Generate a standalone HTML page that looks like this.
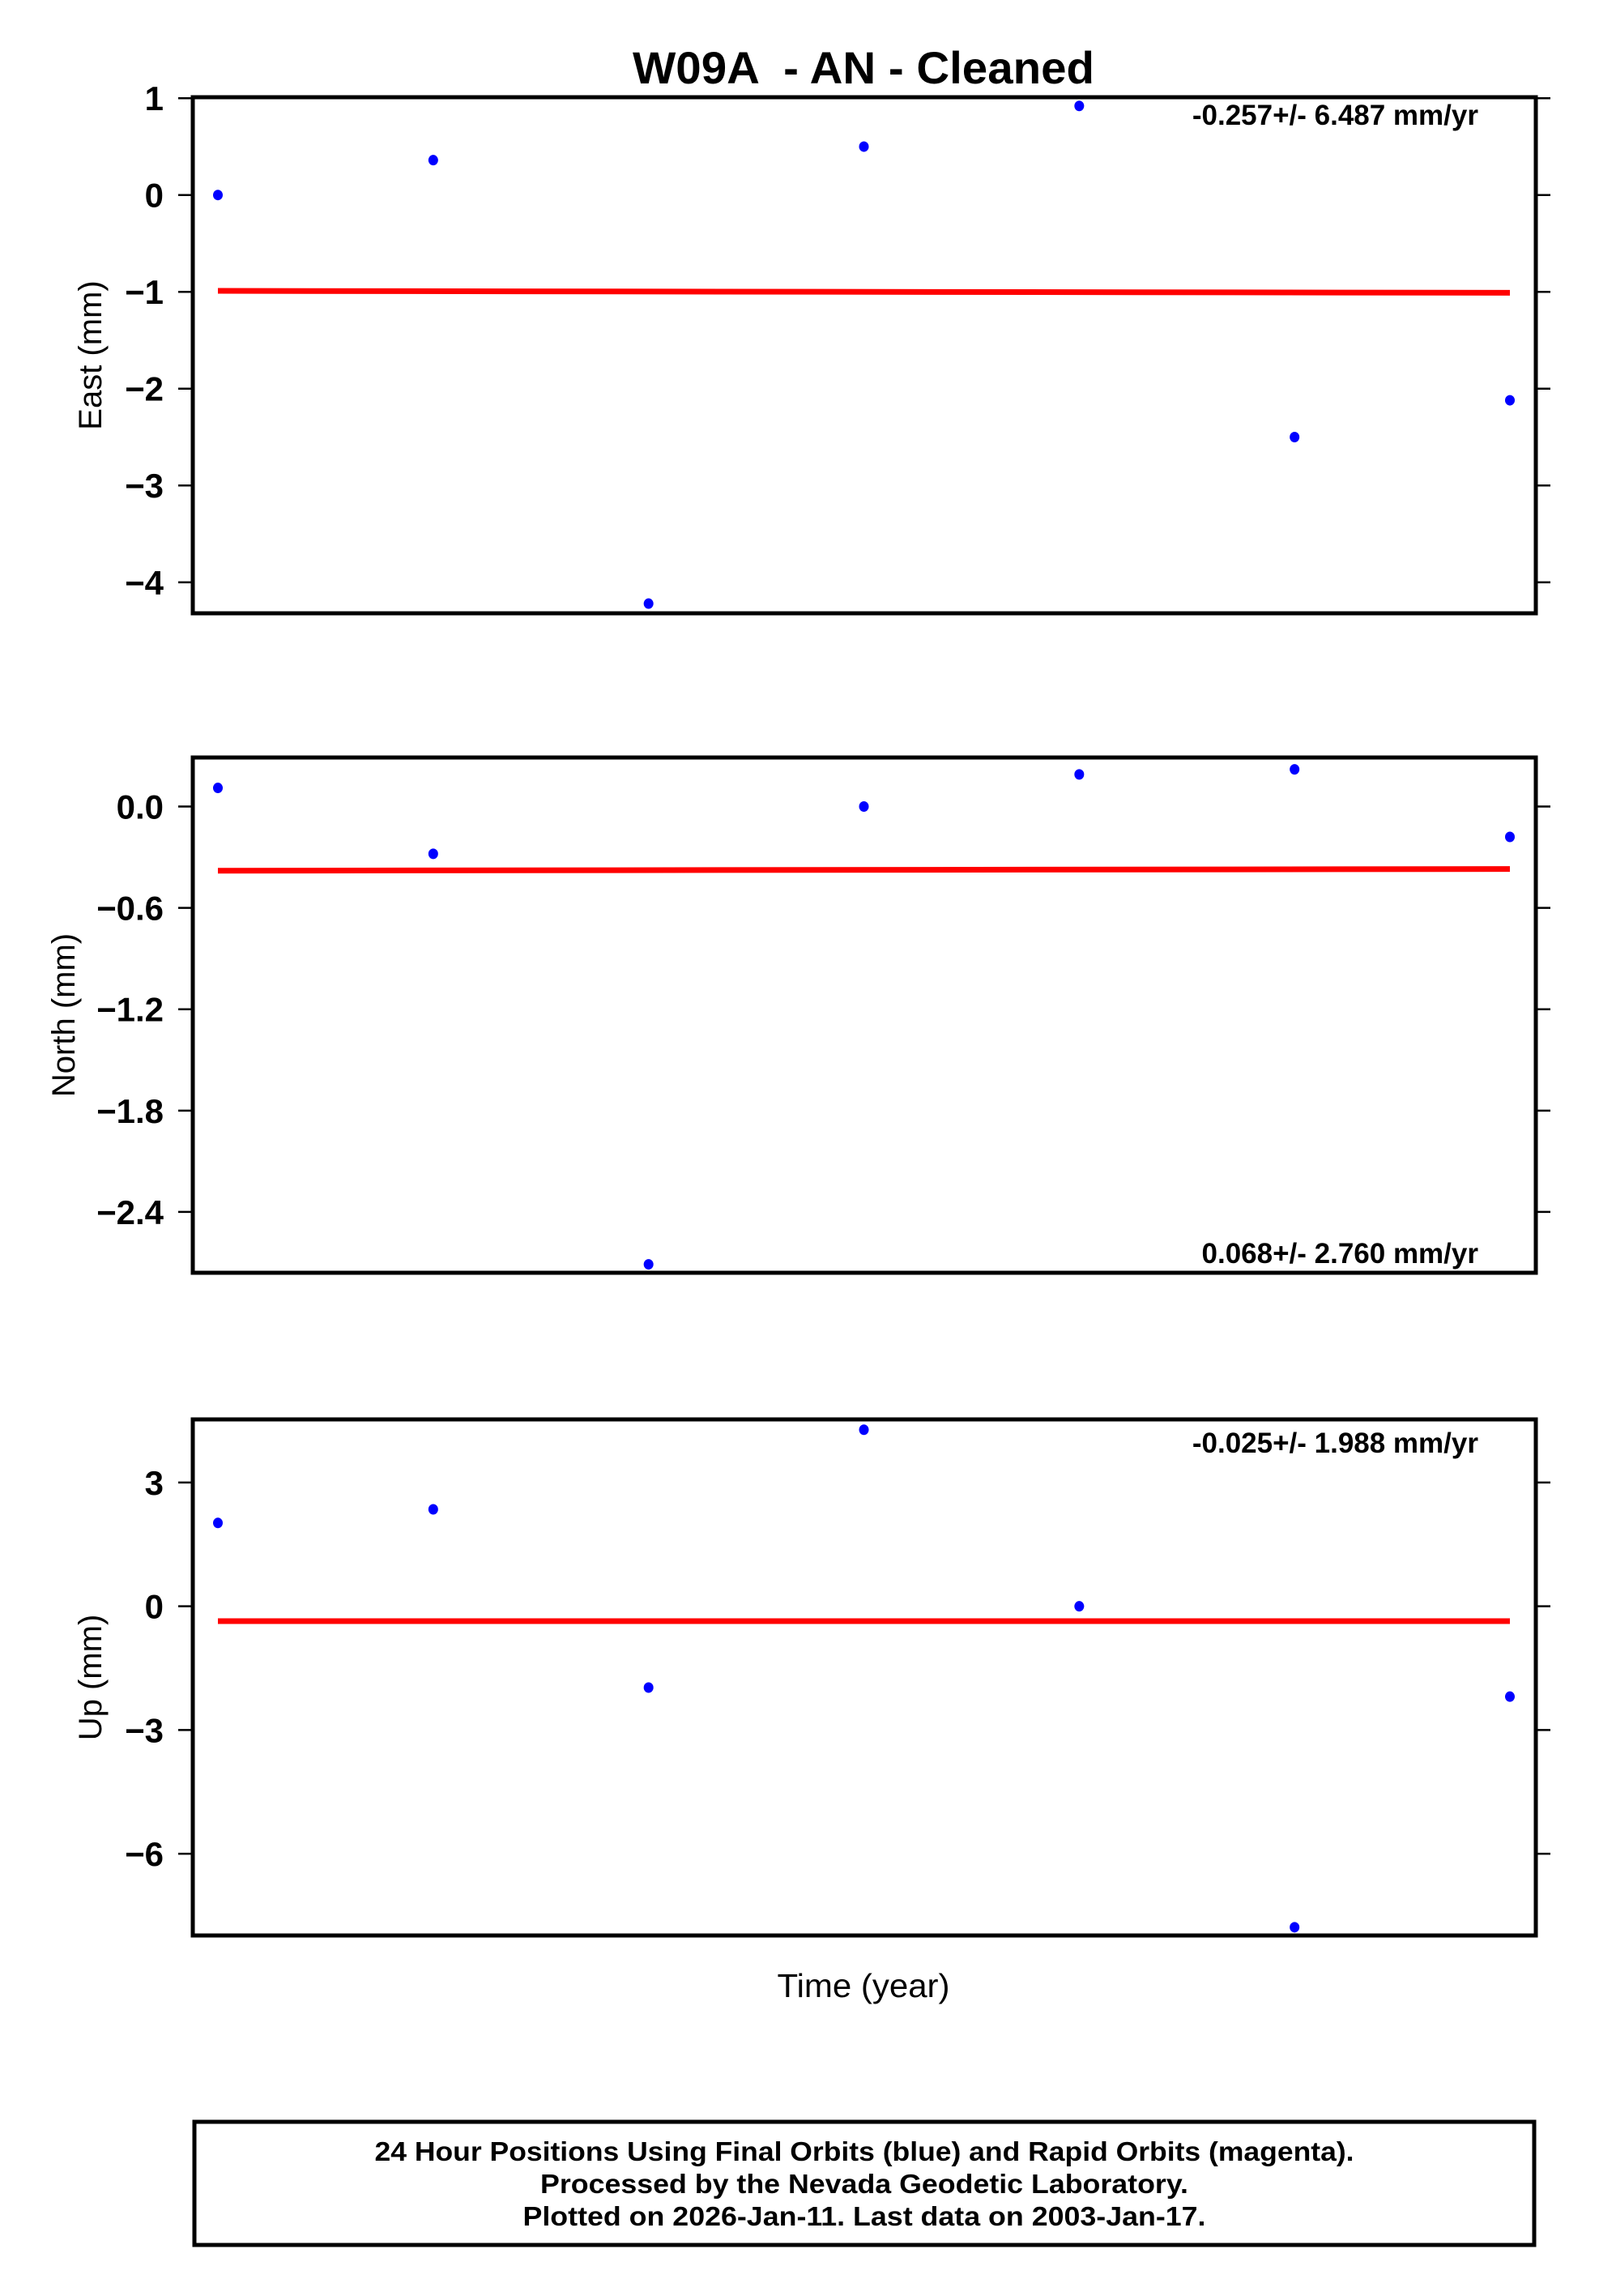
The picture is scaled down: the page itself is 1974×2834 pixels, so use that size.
<!DOCTYPE html>
<html><head><meta charset="utf-8"><style>
html,body{margin:0;padding:0;background:#fff;}
svg{display:block;font-family:"Liberation Sans",Arial,sans-serif;}
</style></head><body>
<svg id="chart" width="1974" height="2834" viewBox="0 0 1974 2834" xmlns="http://www.w3.org/2000/svg">
<rect width="1974" height="2834" fill="#fff"/>
<text x="1066" y="103" text-anchor="middle" font-size="56" font-weight="bold" textLength="570" lengthAdjust="spacingAndGlyphs">W09A &#160;- AN - Cleaned</text>
<g id="panels"></g>
<text x="1066" y="2465" text-anchor="middle" font-size="41" textLength="213" lengthAdjust="spacingAndGlyphs">Time (year)</text>
<rect x="240" y="2619" width="1654" height="152" fill="none" stroke="#000" stroke-width="5"/>
<text x="1067" y="2667" text-anchor="middle" font-size="33" font-weight="bold" textLength="1209" lengthAdjust="spacingAndGlyphs">24 Hour Positions Using Final Orbits (blue) and Rapid Orbits (magenta).</text>
<text x="1067" y="2707" text-anchor="middle" font-size="33" font-weight="bold" textLength="800" lengthAdjust="spacingAndGlyphs">Processed by the Nevada Geodetic Laboratory.</text>
<text x="1067" y="2747" text-anchor="middle" font-size="33" font-weight="bold" textLength="843" lengthAdjust="spacingAndGlyphs">Plotted on 2026-Jan-11. Last data on 2003-Jan-17.</text>
</svg>
<script>
const times = [0, 1, 2, 3, 4, 5, 6];
const eastValues = [0.0, 0.36, -4.22, 0.5, 0.92, -2.5, -2.12];
const northValues = [0.11, -0.28, -2.71, 0.0, 0.19, 0.22, -0.18];
const upValues = [2.02, 2.35, -1.97, 4.28, 0.0, -7.78, -2.19];
const eastFit = [-0.99, -1.01];
const northFit = [-0.38, -0.37];
const upFit = [-0.36, -0.36];
const eastTicks = [1, 0, -1, -2, -3, -4];
const northTicks = [0.0, -0.6, -1.2, -1.8, -2.4];
const upTicks = [3, 0, -3, -6];
const eastTickLabels = ["1", "0", "\u22121", "\u22122", "\u22123", "\u22124"];
const northTickLabels = ["0.0", "\u22120.6", "\u22121.2", "\u22121.8", "\u22122.4"];
const upTickLabels = ["3", "0", "\u22123", "\u22126"];
const rates = ["-0.257+/- 6.487 mm/yr", "0.068+/- 2.760 mm/yr", "-0.025+/- 1.988 mm/yr"];

const NS = "http://www.w3.org/2000/svg";
const g = document.getElementById("panels");
const L = 238, R = 1896;
const xScale = t => 269 + (t - times[0]) / (times[times.length - 1] - times[0]) * (1864 - 269);
function mk(tag, attrs, parent) {
  const e = document.createElementNS(NS, tag);
  for (const k in attrs) e.setAttribute(k, attrs[k]);
  (parent || g).appendChild(e);
  return e;
}
const panels = [
  {name: "east", top: 120, bottom: 757, vmax: 1.01, vmin: -4.32, vals: eastValues, fit: eastFit, ticks: eastTicks, labels: eastTickLabels, title: "East (mm)", tx: 125, rateY: 154},
  {name: "north", top: 935, bottom: 1571, vmax: 0.29, vmin: -2.76, vals: northValues, fit: northFit, ticks: northTicks, labels: northTickLabels, title: "North (mm)", tx: 92, rateY: 1559},
  {name: "up", top: 1752, bottom: 2389, vmax: 4.53, vmin: -7.98, vals: upValues, fit: upFit, ticks: upTicks, labels: upTickLabels, title: "Up (mm)", tx: 125, rateY: 1793}
];
panels.forEach((p, pi) => {
  const y = v => p.top + (p.vmax - v) / (p.vmax - p.vmin) * (p.bottom - p.top);
  const pg = mk("g", {});
  
  
  p.ticks.forEach((t, i) => {
    const ty = y(t);
    const tl = mk("line", {x1: L - 18, x2: L, y1: ty, y2: ty, stroke: "#000", "stroke-width": 2.5}, pg);
    
    
    const tr = mk("line", {x1: R, x2: R + 18, y1: ty, y2: ty, stroke: "#000", "stroke-width": 2.5}, pg);
    
    
    const lab = mk("text", {x: 202, y: ty + 15, "text-anchor": "end", "font-size": 42, "font-weight": "bold"}, pg);
    lab.textContent = p.labels[i];
    
    
  });
  const fl = mk("line", {x1: xScale(times[0]), x2: xScale(times[times.length - 1]), y1: y(p.fit[0]), y2: y(p.fit[1]), stroke: "#ff0000", "stroke-width": 7}, pg);
  
  
  p.vals.forEach((v, i) => {
    const c = mk("ellipse", {cx: xScale(times[i]), cy: y(v), rx: 6, ry: 6.5, fill: "#0000ff"}, pg);
    
    
  });
  const fr = mk("rect", {x: L, y: p.top, width: R - L, height: p.bottom - p.top, fill: "none", stroke: "#000", "stroke-width": 5}, pg);
  
  
  const cy = (p.top + p.bottom) / 2;
  const at = mk("text", {x: p.tx, y: cy, "text-anchor": "middle", "font-size": 40, transform: "rotate(-90 " + p.tx + " " + cy + ")"}, pg);
  at.textContent = p.title;
  
  
  const rt = mk("text", {x: 1825, y: p.rateY, "text-anchor": "end", "font-size": 35, "font-weight": "bold"}, pg);
  rt.textContent = rates[pi];
  
  
});
</script>
</body></html>
